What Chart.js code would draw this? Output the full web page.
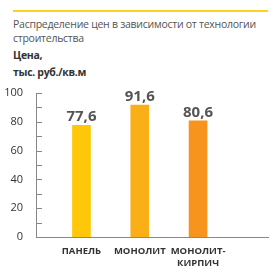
<!DOCTYPE html>
<html lang="ru">
<head>
<meta charset="utf-8">
<script src="https://cdn.jsdelivr.net/npm/chart.js@4/dist/chart.umd.min.js"></script>
<style>
  html, body { margin: 0; padding: 0; background: #fff; }
  #wrap { position: relative; width: 276px; height: 273px; overflow: hidden; font-family: "Open Sans", sans-serif; }
  #topline { position: absolute; left: 13px; top: 10px; width: 255px; height: 2px; background: #ffd21f; }
  .txt { position: absolute; left: 13px; white-space: nowrap; color: #555; }
  #title { top: 17px; font-size: 10.5px; line-height: 14px; letter-spacing: -0.26px; }
  #unit { top: 47px; font-size: 10.5px; line-height: 17px; font-weight: bold; color: #333; letter-spacing: -0.3px; }
  #chart { position: absolute; left: 0; top: 0; }
</style>
</head>
<body>
<div id="wrap">
  <div id="topline"></div>
  <div class="txt" id="title">Распределение цен в зависимости от технологии<br>строительства</div>
  <div class="txt" id="unit">Цена,<br>тыс. руб./кв.м</div>
  <canvas id="chart" width="276" height="273"></canvas>
</div>
<script>
  // Chart data
  const categories = ['ПАНЕЛЬ', 'МОНОЛИТ', ['МОНОЛИТ-', 'КИРПИЧ']];
  const prices = [77.6, 91.6, 80.6];
  const barColors = ['#ffc709', '#fbaf17', '#f7941e'];
  const yTicks = [0, 10, 20, 30, 40, 50, 60, 70, 80, 90, 100];

  // Draw value labels above each bar
  const valueLabels = {
    id: 'valueLabels',
    afterDatasetsDraw(chart) {
      const ctx = chart.ctx;
      const meta = chart.getDatasetMeta(0);
      ctx.save();
      ctx.font = 'bold 15px "Open Sans", sans-serif';
      ctx.fillStyle = '#555';
      ctx.textAlign = 'center';
      ctx.textBaseline = 'alphabetic';
      meta.data.forEach((bar, i) => {
        ctx.fillText(String(prices[i]).replace('.', ','), bar.x, bar.y - 4);
      });
      ctx.restore();
    }
  };

  // Small tick marks pointing into the plot, like the original
  const innerTicks = {
    id: 'innerTicks',
    afterDraw(chart) {
      const ctx = chart.ctx;
      const y = chart.scales.y;
      ctx.save();
      ctx.strokeStyle = '#888';
      ctx.lineWidth = 1;
      yTicks.forEach(v => {
        const py = Math.round(y.getPixelForValue(v)) + 0.5;
        ctx.beginPath();
        ctx.moveTo(y.right, py);
        ctx.lineTo(y.right + 6, py);
        ctx.stroke();
      });
      ctx.restore();
    }
  };

  new Chart(document.getElementById('chart'), {
    type: 'bar',
    data: {
      datasets: [{
        data: prices.map((v, i) => ({ x: i, y: v })),
        backgroundColor: barColors,
        barThickness: 18
      }]
    },
    options: {
      responsive: false,
      animation: false,
      layout: { padding: { top: 93, right: 8, left: 0, bottom: 0 } },
      plugins: { legend: { display: false }, tooltip: { enabled: false } },
      scales: {
        x: {
          type: 'linear',
          offset: false,
          min: -0.78,
          max: 3.2,
          grid: { display: false },
          border: { display: true, color: '#888', width: 1 },
          afterBuildTicks: s => { s.ticks = [0, 1, 2].map(v => ({ value: v })); },
          afterFit: s => { s.height = 36; },
          ticks: {
            padding: 0,
            autoSkip: false,
            maxRotation: 0,
            color: '#333',
            font: { family: '"Liberation Sans Narrow", "Open Sans", sans-serif', size: 9.5, weight: 'bold', lineHeight: 1.25 },
            callback: v => categories[v]
          }
        },
        y: {
          min: 0,
          max: 100,
          grid: { display: false },
          border: { display: true, color: '#888', width: 1 },
          afterBuildTicks: s => { s.ticks = yTicks.map(v => ({ value: v })); },
          afterFit: s => { s.width = 36; },
          ticks: {
            padding: 5,
            color: '#333',
            font: { family: '"Open Sans", sans-serif', size: 11 },
            callback: v => (v % 20 === 0 ? v : '')
          }
        }
      }
    },
    plugins: [valueLabels, innerTicks]
  });
</script>
</body>
</html>
